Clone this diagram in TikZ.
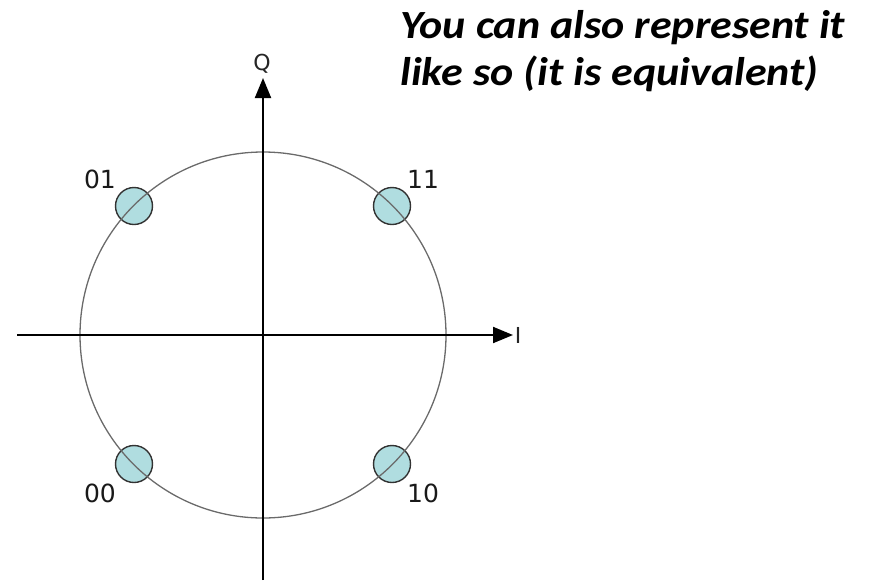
\documentclass[tikz,border=0pt]{standalone}
\usepackage{fontspec}
\setmainfont{DejaVu Sans}
\newfontfamily\calib{Carlito}
\usetikzlibrary{arrows.meta}
\definecolor{dotfill}{HTML}{B0DDE0}
\definecolor{ringgray}{HTML}{6A6A6A}
\tikzset{
  axis/.style={line width=2pt, -{Triangle[length=20pt,width=16pt]}},
  pt/.style={circle, draw=black!80, line width=1.4pt, fill=dotfill, minimum size=37pt, inner sep=0pt},
  lbl/.style={font=\fontsize{25}{28}\selectfont, text=black!90, inner sep=0pt},
  axlbl/.style={font=\fontsize{22}{25}\selectfont, text=black!85, inner sep=0pt},
  caption/.style={font=\calib\bfseries\itshape\fontsize{40}{46}\selectfont, anchor=base west, inner sep=0pt, xscale=1.1}
}
\begin{document}
\begin{tikzpicture}[x=1pt,y=-1pt]
\useasboundingbox (0,0) rectangle (869,581);
\coordinate (O) at (263,335);
\coordinate (xs) at (17,335);
\coordinate (xe) at (513,335);
\coordinate (ys) at (263,580);
\coordinate (ye) at (263,78);
% points
\node[pt] (p01) at (134,206) {};
\node[pt] (p11) at (392,206) {};
\node[pt] (p00) at (134,464) {};
\node[pt] (p10) at (392,464) {};
% ring
\draw[ringgray, line width=1.3pt] (O) circle[radius=183];
% axes
\draw[axis] (xs) -- (xe);
\draw[axis] (ys) -- (ye);
\node[axlbl] (Q) at (262,64) {Q};
\node[axlbl] (I) at (518,335) {I};
% labels
\node[lbl] (l01) at (100,179) {01};
\node[lbl] (l11) at (423,179) {11};
\node[lbl] (l00) at (100,493) {00};
\node[lbl] (l10) at (423,493) {10};
% caption
\node[caption] (c1) at (400,38) {You can also represent it};
\node[caption] (c2) at (400,85) {like so (it is equivalent)};
\end{tikzpicture}
\end{document}
